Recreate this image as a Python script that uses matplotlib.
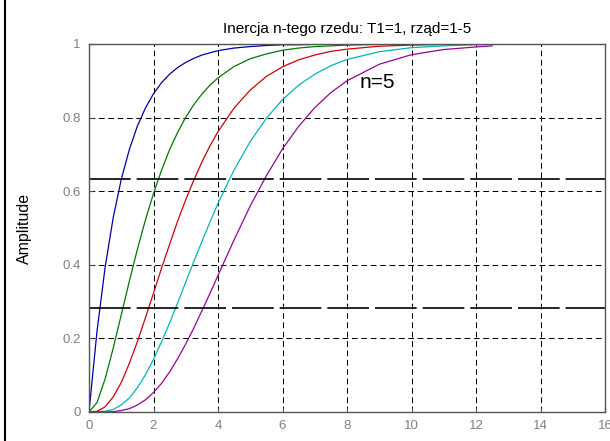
import matplotlib

matplotlib.use("Agg")
import matplotlib.pyplot as plt
from matplotlib.lines import Line2D

plt.rcParams["font.family"] = ["Liberation Sans", "DejaVu Sans"]

# time axis [s], shared by all five step responses
t = [0, 0.25, 0.5, 0.75, 1, 1.25, 1.5, 1.75, 2, 2.25, 2.5, 2.75, 3, 3.25, 3.5,
     3.75, 4, 4.5, 5, 5.5, 6, 6.5, 7, 7.5, 8, 9, 10, 11, 12, 12.5]

# step responses of 1/(T1*s+1)^n, n = 1..5
y1 = [0, .221, .393, .528, .632, .713, .777, .826, .865, .895, .918, .936, .950,
      .961, .970, .976, .982, .989, .993, .996, .998, .998, .999, .999, 1.0,
      1.0, 1.0, 1.0, 1.0, 1.0]
y2 = [0, .026, .090, .173, .264, .355, .442, .522, .594, .657, .713, .760, .801,
      .835, .864, .888, .908, .939, .960, .973, .983, .989, .993, .995, .997,
      .999, .9995, .9998, .9999, 1.0]
y3 = [0, .002, .014, .041, .080, .132, .191, .256, .323, .391, .456, .519, .577,
      .630, .679, .723, .762, .826, .875, .912, .938, .957, .970, .980, .986,
      .994, .997, .9988, .9995, .9997]
y4 = [0, 0, .002, .007, .019, .038, .066, .101, .143, .191, .242, .297, .353,
      .409, .463, .516, .567, .658, .735, .798, .849, .888, .918, .941, .958,
      .979, .990, .995, .998, .9986]
y5 = [0, 0, 0, .001, .004, .009, .019, .033, .053, .078, .109, .145, .185,
      .228, .275, .322, .371, .468, .560, .642, .715, .776, .827, .868, .900,
      .945, .971, .985, .992, .995]
responses = [y1, y2, y3, y4, y5]
colors = ["#0000b0", "#007a00", "#d80000", "#00b8b8", "#9a009a"]

# reference levels: 63.2 % and 28.3 % of the final value
levels = [0.632, 0.283]
t_end = 16

fig = plt.figure(figsize=(6.1, 4.41), dpi=100, facecolor="white")
ax = fig.add_axes([89 / 610, 29 / 441, 516 / 610, 368 / 441])

ax.grid(True, color="black", linewidth=0.75, linestyle=(0, (5.5, 3.5)))
ax.set_axisbelow(True)

for y, c in zip(responses, colors):
    ax.plot(t, y, color=c, linewidth=0.9)

for lv in levels:
    ax.plot([0, t_end], [lv, lv], color="black", linewidth=1.2,
            linestyle=(0, (25, 3.6)))

ax.text(8.4, 0.895, "n=5", fontsize=15, va="center", ha="left", color="black")

ax.set_xlim(0, 16)
ax.set_ylim(0, 1)
ax.set_xticks(range(0, 17, 2))
ax.set_yticks([0, 0.2, 0.4, 0.6, 0.8, 1])
ax.set_yticklabels(["0", "0.2", "0.4", "0.6", "0.8", "1"])
ax.tick_params(direction="in", length=3, colors="#555555", labelcolor="#808080",
               labelsize=9.5, pad=6)
for sp in ax.spines.values():
    sp.set_color("#555555")
    sp.set_linewidth(1.0)

ax.set_ylabel("Amplitude", fontsize=11.5, labelpad=22)
ax.set_title("Inercja n-tego rzedu: T1=1, rząd=1-5", fontsize=11, pad=8)

# frame edge on the left side of the window
fig.add_artist(Line2D([5 / 610, 5 / 610], [0, 1], transform=fig.transFigure,
                      color="black", linewidth=1.5))

fig.savefig("out.png", dpi=100, facecolor="white")
